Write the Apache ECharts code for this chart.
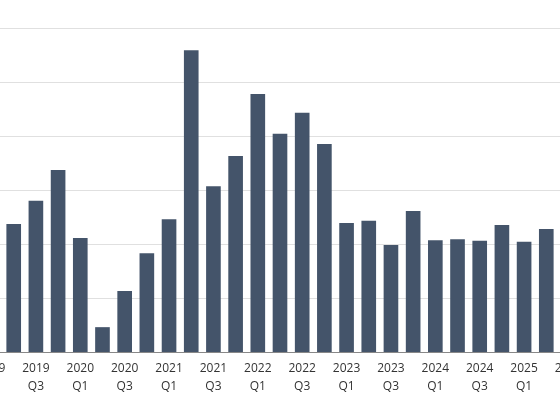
<!DOCTYPE html>
<html><head><meta charset="utf-8">
<script src="https://cdn.jsdelivr.net/npm/echarts@6/dist/echarts.min.js"></script>
<style>html,body{margin:0;padding:0;background:#fff;overflow:hidden;width:560px;height:420px}#c{width:610px;height:420px;margin-left:-25px}</style>
</head><body><div id="c"></div>
<script>
const categories = ["2019\nQ1","2019\nQ2","2019\nQ3","2019\nQ4","2020\nQ1","2020\nQ2","2020\nQ3","2020\nQ4","2021\nQ1","2021\nQ2","2021\nQ3","2021\nQ4","2022\nQ1","2022\nQ2","2022\nQ3","2022\nQ4","2023\nQ1","2023\nQ2","2023\nQ3","2023\nQ4","2024\nQ1","2024\nQ2","2024\nQ3","2024\nQ4","2025\nQ1","2025\nQ2","2025\nQ3"];
const values = [2.3,2.37,2.8,3.37,2.11,0.46,1.13,1.83,2.46,5.59,3.07,3.63,4.78,4.04,4.43,3.85,2.39,2.43,1.98,2.61,2.07,2.09,2.06,2.35,2.04,2.28,2.2];
const chart = echarts.init(document.getElementById('c'));
chart.setOption({
  animation:false,
  grid:{left:0,right:0,top:28,bottom:68,containLabel:false},
  xAxis:{type:'category',data:categories,
    axisLine:{lineStyle:{color:'#888'}},
    axisTick:{interval:1,length:5,lineStyle:{color:'#888'}},
    axisLabel:{interval:1,color:'#333',fontSize:12,lineHeight:18,margin:8,fontFamily:'Open Sans'}},
  yAxis:{type:'value',min:0,max:6,interval:1,axisLabel:{show:false},
    splitLine:{lineStyle:{color:'#e0e0e0'}}},
  series:[{type:'bar',data:values,barWidth:'66%',itemStyle:{color:'#44546a'}}]
});
</script></body></html>
